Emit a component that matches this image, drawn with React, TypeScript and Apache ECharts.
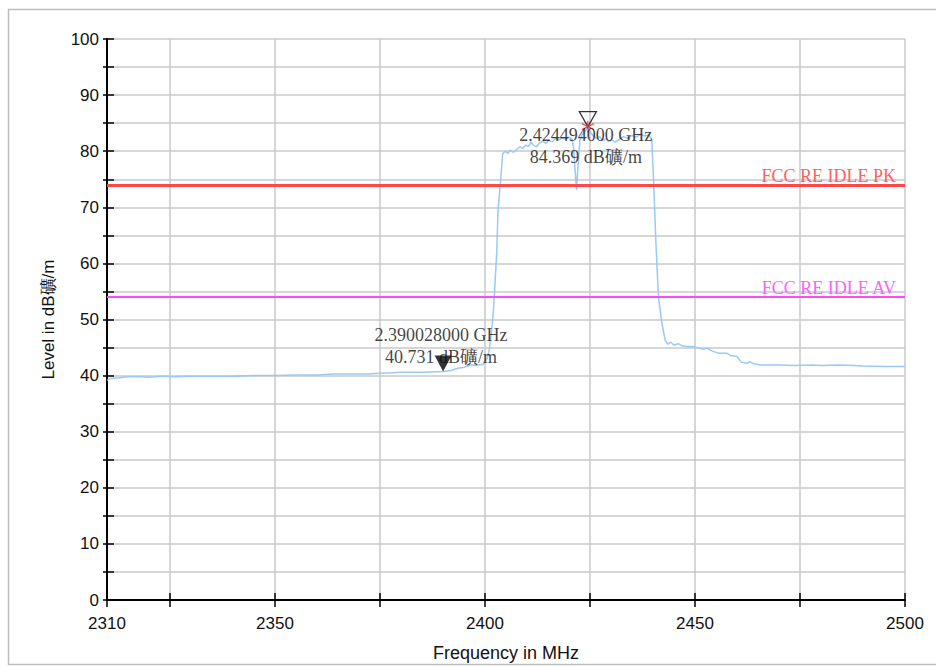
import React, { useEffect, useRef } from "react";
import * as echarts from "echarts";

const freqMHz = [
  2310, 2311, 2313, 2315, 2318, 2320, 2323, 2326, 2330, 2335, 2340, 2345, 2350, 2355, 2360, 2364, 2368, 2372, 2375, 2378,
  2380, 2385, 2390.028, 2392, 2393.5, 2395, 2396.5, 2398, 2399.5, 2400, 2400.5, 2401, 2401.5, 2402, 2402.5, 2402.8, 2403.1,
  2403.7, 2404.2, 2404.8, 2405.5, 2406, 2406.8, 2407.5, 2408.3, 2409, 2409.7, 2410.3, 2411, 2411.6, 2412.3, 2413, 2413.8,
  2414.5, 2415.2, 2416, 2416.8, 2417.6, 2418.4, 2419.2, 2420, 2420.7, 2421.1, 2421.5, 2421.8, 2422.1, 2422.6, 2423.2, 2423.8,
  2424.494, 2425, 2425.7, 2426.5, 2427.3, 2428, 2428.8, 2429.5, 2430.3, 2431, 2432, 2433, 2434, 2435, 2436, 2437, 2438, 2439,
  2439.7, 2440.1, 2440.7, 2441.3, 2442.1, 2442.9, 2443.6, 2444.2, 2445, 2446, 2447, 2448, 2449.5, 2451, 2452, 2452.8, 2454,
  2455.5, 2457.5, 2458.5, 2460, 2461, 2462.5, 2463, 2464, 2465.5, 2470, 2474, 2478, 2480, 2484, 2488, 2490, 2495, 2500,
];
const levelDb = [
  39.2, 39.5, 39.6, 39.8, 39.8, 39.7, 39.9, 39.8, 39.9, 39.9, 39.9, 40.0, 40.0, 40.1, 40.1, 40.3, 40.3, 40.3, 40.4, 40.5,
  40.6, 40.6, 40.731, 40.9, 41.3, 41.5, 41.9, 41.9, 42.0, 42.6, 43.0, 44.5, 47.5, 51.5, 58, 62, 69.5,
  74.5, 79.5, 80.0, 79.6, 80.2, 79.8, 80.3, 80.8, 80.5, 81.1, 80.8, 81.6, 81.0, 80.8, 81.5, 81.8,
  81.4, 81.9, 81.7, 82.3, 82.0, 82.4, 82.1, 82.5, 82.2, 80.5, 76, 73.1, 77, 82.0, 83.0, 83.6,
  84.369, 83.5, 82.8, 82.3, 82.6, 81.9, 82.2, 81.7, 82.0, 81.6, 82.1, 82.6, 82.3, 82.8, 82.5, 83.0, 82.7, 82.9,
  82.0, 75.5, 63.6, 54, 49.4, 46.3, 45.6, 46.0, 45.4, 45.7, 45.3, 45.2, 45.2, 44.9, 44.7, 44.9, 44.4,
  44.0, 44.0, 43.6, 43.4, 42.4, 42.2, 42.5, 42.1, 41.9, 41.9, 41.8, 41.9, 41.8, 41.9, 41.8, 41.7, 41.6, 41.6,
];

const xTickValues = [2310, 2325, 2350, 2375, 2400, 2425, 2450, 2475, 2500];
const xLabelValues = [2310, 2350, 2400, 2450, 2500];
const yLabelValues = [0, 10, 20, 30, 40, 50, 60, 70, 80, 90, 100];

const limitNames = ["FCC RE IDLE PK", "FCC RE IDLE AV"];
const limitValues = [74, 54];
const limitColors = ["#ff4848", "#ff48ff"];
const limitLabelColors = ["#ff6060", "#ff60ff"];
const limitWidths = [3, 2];

// markers: [freq MHz, level dB]
const marker1 = [2424.494, 84.369];
const marker2 = [2390.028, 40.731];

const unit = "dB礦/m";

function markerText(m: number[]) {
  return `${(m[0] / 1000).toFixed(9)} GHz\n${m[1].toFixed(3)} ${unit}`;
}

export default function App() {
  const ref = useRef<HTMLDivElement>(null);
  useEffect(() => {
    if (!ref.current) return;
    const chart = echarts.init(ref.current, undefined, { renderer: "svg" });
    const axisFont = { fontFamily: "Liberation Sans", fontSize: 17, color: "#111" };
    const serifFont = { fontFamily: "Liberation Serif", fontSize: 18 };
    const gridLine = { show: true, lineStyle: { color: "#c8c8c8", width: 1.5 } };
    chart.setOption({
      animation: false,
      backgroundColor: "#fff",
      graphic: [
        {
          type: "rect",
          shape: { x: 8.5, y: 9.5, width: 940, height: 655 },
          style: { fill: "none", stroke: "#bdbdbd", lineWidth: 1.5 },
          silent: true,
          z: -10,
        },
      ],
      grid: { left: 107, right: 31, top: 39, bottom: 64, containLabel: false },
      xAxis: [
        {
          type: "value",
          min: 2310,
          max: 2500,
          name: "Frequency in MHz",
          nameLocation: "middle",
          nameGap: 44,
          nameTextStyle: { ...axisFont, fontSize: 18 },
          axisLine: { show: true, onZero: false, lineStyle: { color: "#000", width: 2 } },
          axisTick: { show: true, length: 7, customValues: xTickValues, lineStyle: { color: "#000", width: 1.5 } },
          axisLabel: { show: true, customValues: xLabelValues, margin: 15, formatter: (v: number) => String(v), ...axisFont },
          splitLine: gridLine,
        },
        {
          type: "value",
          min: 2310,
          max: 2500,
          position: "bottom",
          axisLine: { show: false, onZero: false },
          axisTick: { show: true, inside: true, length: 7, customValues: xTickValues, lineStyle: { color: "#000", width: 1.5 } },
          axisLabel: { show: false },
          splitLine: { show: false },
        },
      ],
      yAxis: [
        {
          type: "value",
          min: 0,
          max: 100,
          interval: 5,
          name: "Level in dB礦/m",
          nameLocation: "middle",
          nameGap: 50,
          nameTextStyle: axisFont,
          axisLine: { show: true, onZero: false, lineStyle: { color: "#000", width: 2 } },
          axisTick: { show: true, inside: true, length: 7, lineStyle: { color: "#000", width: 1.5 } },
          axisLabel: { show: true, customValues: yLabelValues, margin: 8, formatter: (v: number) => String(v), ...axisFont },
          splitLine: gridLine,
        },
        {
          type: "value",
          min: 0,
          max: 100,
          interval: 5,
          position: "left",
          axisLine: { show: false, onZero: false },
          axisTick: { show: true, length: 4, lineStyle: { color: "#000", width: 1.5 } },
          axisLabel: { show: false },
          splitLine: { show: false },
        },
      ],
      series: [
        {
          type: "line",
          data: freqMHz.map((f, i) => [f, levelDb[i]]),
          showSymbol: false,
          lineStyle: { color: "#99c9f7", width: 1.5 },
          z: 3,
        },
        ...limitValues.map((v, i) => ({
          type: "line",
          data: [],
          markLine: {
            silent: true,
            symbol: "none",
            data: [{ yAxis: v, name: limitNames[i] }],
            lineStyle: { color: limitColors[i], width: limitWidths[i], type: "solid" },
            label: {
              show: true,
              position: "insideEndTop",
              formatter: limitNames[i],
              distance: 0,
              padding: [0, 9, 0, 0],
              color: limitLabelColors[i],
              ...serifFont,
            },
          },
          z: 2,
        })),
        {
          type: "scatter",
          data: [marker1],
          symbol: "triangle",
          symbolRotate: 180,
          symbolSize: [17, 15],
          symbolOffset: [0, -7.5],
          itemStyle: { color: "rgba(255,255,255,0)", borderColor: "#000", borderWidth: 1.3 },
          z: 5,
        },
        {
          type: "scatter",
          data: [marker1],
          symbol: "path://M0,-10L0,10M-8.66,-5L8.66,5M-8.66,5L8.66,-5",
          symbolSize: 12,
          itemStyle: { color: "rgba(0,0,0,0)", borderColor: "#ff2020", borderWidth: 1.3 },
          z: 6,
        },
        {
          type: "scatter",
          data: [marker2],
          symbol: "triangle",
          symbolRotate: 180,
          symbolSize: [17, 16],
          symbolOffset: [0, -8],
          itemStyle: { color: "#000" },
          z: 5,
        },
        {
          type: "scatter",
          data: [marker1, marker2],
          symbolSize: 1,
          itemStyle: { color: "rgba(0,0,0,0)" },
          label: {
            show: true,
            position: "inside",
            formatter: (p: any) => markerText(p.data),
            color: "#111",
            align: "center",
            verticalAlign: "middle",
            lineHeight: 22,
            ...serifFont,
          },
          labelLayout: (p: any) => ({ dy: p.dataIndex === 0 ? 19 : -25.5, dx: -2 }),
          z: 7,
        },
      ],
    });
    return () => chart.dispose();
  }, []);
  return <div ref={ref} style={{ position: "fixed", left: 0, top: 0, width: 936, height: 667 }} />;
}
